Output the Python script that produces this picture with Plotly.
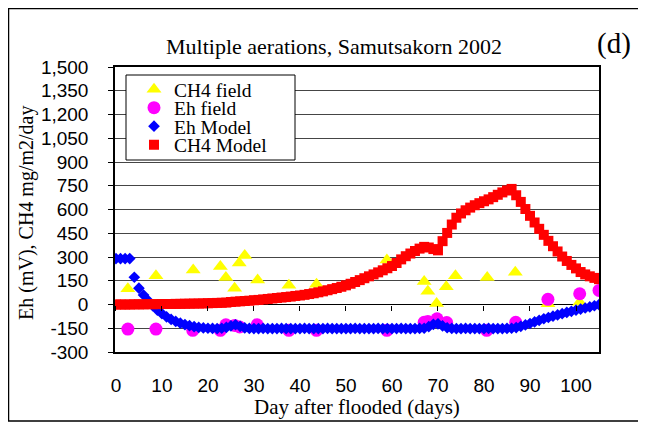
import plotly.graph_objects as go

# ---------------- data ----------------
days_model = list(range(0, 106))

eh_model = [290, 290, 290, 290, 172, 103, 60, 25, -8, -35,
            -58, -78, -94, -107, -118, -127, -134, -140, -145, -148,
            -150, -151, -152, -150, -145, -135, -128, -138, -148, -151,
            -152, -152, -151, -152, -152, -152, -151, -152, -152, -152,
            -152, -151, -152, -152, -152, -152, -151, -152, -152, -152,
            -152, -152, -151, -152, -152, -152, -152, -151, -152, -152,
            -152, -152, -151, -152, -152, -152, -151, -150, -140, -125,
            -122, -135, -147, -151, -152, -152, -151, -152, -152, -152,
            -152, -151, -152, -152, -152, -151, -150, -146, -138, -129,
            -120, -110, -100, -90, -82, -74, -66, -58, -50, -43,
            -36, -29, -22, -15, -8, -1]

ch4_model = [0, 0, 0, 0, 1, 1, 1, 2, 2, 2,
             3, 3, 3, 4, 4, 5, 5, 6, 6, 7,
             8, 9, 10, 11, 12, 16, 18, 20, 22, 24,
             27, 29, 32, 35, 38, 41, 44, 47, 50, 54,
             57, 61, 66, 71, 77, 83, 90, 97, 104, 112,
             121, 131, 142, 154, 166, 178, 190, 203, 216, 229,
             243, 262, 285, 305, 322, 338, 353, 364, 360, 350,
             342, 400, 452, 505, 548, 575, 595, 612, 627, 640,
             652, 664, 678, 693, 708, 720, 730, 690, 648, 603,
             560, 518, 478, 440, 402, 368, 335, 303, 275, 250,
             228, 205, 190, 178, 168, 160]

ch4_field_days = [2.6, 8.7, 16.8, 22.7, 23.9, 25.8, 26.8, 28.0, 30.8, 37.6,
                  43.6, 58.9, 67.0, 67.8, 69.7, 71.8, 73.8, 80.7, 86.8, 93.9, 100.8]
ch4_field = [100, 182, 218, 240, 170, 102, 262, 310, 154, 121,
             128, 281, 146, 83, 6, 112, 182, 170, 203, 5, 15]

eh_field_days = [2.6, 8.7, 16.7, 22.7, 23.9, 25.8, 26.9, 30.7, 37.6, 43.6,
                 58.9, 67.0, 67.8, 69.8, 71.9, 80.6, 86.9, 93.9, 100.8, 105.0]
eh_field = [-155, -155, -163, -163, -128, -132, -142, -128, -163, -163,
            -163, -112, -108, -90, -114, -163, -112, 33, 68, 89]

x_tick_vals = [0, 10, 20, 30, 40, 50, 60, 70, 80, 90, 100]
x_tick_labels = ["0", "10", "20", "30", "40", "50", "60", "70", "80", "90", "100"]
y_tick_vals = [-300, -150, 0, 150, 300, 450, 600, 750, 900, 1050, 1200, 1350, 1500]
y_tick_labels = ["-300", "-150", "0", "150", "300", "450", "600", "750", "900",
                 "1,050", "1,200", "1,350", "1,500"]

# ---------------- layout geometry ----------------
# the page body has an 8px margin, so the figure starts at screen (8, 8)
OFF = 8
W, H = 646 - OFF, 423 - OFF
L = 115 - OFF           # plot-area left edge at screen x=115
T = 67 - OFF            # plot-area top at screen y=67
R = W - (599 - OFF)     # plot-area right at screen x=599
B = H - (352 - OFF)     # plot-area bottom at screen y=352
PW, PH = W - L - R, H - T - B


def px_x(sx):
    return (sx - OFF - L) / PW


def px_y(sy):
    return (H - B - (sy - OFF)) / PH


SERIF = "Liberation Serif, Times New Roman, serif"
SANS = "Liberation Sans, Arial, sans-serif"

fig = go.Figure()

fig.add_trace(go.Scatter(x=ch4_field_days, y=ch4_field, mode="markers", name="CH4 field",
                         marker=dict(symbol="triangle-up", size=13, color="#FFFF00"),
                         legend="legend"))
fig.add_trace(go.Scatter(x=eh_field_days, y=eh_field, mode="markers", name="Eh field",
                         marker=dict(symbol="circle", size=13, color="#FF00FF"),
                         legend="legend2"))
fig.add_trace(go.Scatter(x=days_model, y=eh_model, mode="markers", name="Eh Model",
                         marker=dict(symbol="diamond", size=9, color="#0000FF"),
                         legend="legend3"))
fig.add_trace(go.Scatter(x=days_model, y=ch4_model, mode="markers", name="CH4 Model",
                         marker=dict(symbol="square", size=10, color="#FF0000"),
                         legend="legend4"))
# helper trace so the tick axis at y=0 is drawn
fig.add_trace(go.Scatter(x=[], y=[], xaxis="x2", yaxis="y", showlegend=False,
                         hoverinfo="skip"))

XR = [-0.2, 105.0]
YR = [-300, 1500]

row_y = [89.5, 108, 126.5, 145]
leg_common = dict(font=dict(family=SERIF, size=19.5, color="black"),
                  bgcolor="rgba(0,0,0,0)", borderwidth=0,
                  x=px_x(134), xanchor="left", yanchor="middle", itemwidth=30)

fig.update_layout(
    width=W, height=H,
    margin=dict(l=L, r=R, t=T, b=B, pad=0),
    paper_bgcolor="white", plot_bgcolor="white",
    showlegend=True,
    legend=dict(y=px_y(row_y[0]), **leg_common),
    legend2=dict(y=px_y(row_y[1]), **leg_common),
    legend3=dict(y=px_y(row_y[2]), **leg_common),
    legend4=dict(y=px_y(row_y[3]), **leg_common),
    xaxis=dict(range=XR, tickvals=x_tick_vals, ticktext=x_tick_labels,
               showgrid=False, zeroline=False, ticks="",
               showline=True, mirror=True, linecolor="black", linewidth=1.5,
               tickfont=dict(family=SANS, size=19, color="black"),
               ticklabelstandoff=15),
    xaxis2=dict(range=XR, overlaying="x", anchor="free", position=300 / 1800,
                side="bottom", tickvals=x_tick_vals, showticklabels=False,
                ticks="outside", ticklen=5, tickwidth=1, tickcolor="black",
                showgrid=False, zeroline=False, showline=False),
    yaxis=dict(range=YR, tickvals=y_tick_vals, ticktext=y_tick_labels,
               showgrid=True, gridcolor="#454545", gridwidth=1,
               zeroline=True, zerolinecolor="black", zerolinewidth=1.2,
               ticks="outside", ticklen=5, tickwidth=1, tickcolor="black",
               showline=True, mirror=True, linecolor="black", linewidth=1.5,
               tickfont=dict(family=SANS, size=19, color="black"),
               ticklabelstandoff=16),
    shapes=[
        dict(type="rect", xref="paper", yref="paper",
             x0=px_x(8.5), x1=px_x(700), y0=px_y(421), y1=px_y(8.5),
             line=dict(color="black", width=1.5), fillcolor="rgba(0,0,0,0)", layer="below"),
        dict(type="rect", xref="paper", yref="paper",
             x0=px_x(126), x1=px_x(295), y0=px_y(160), y1=px_y(75),
             line=dict(color="black", width=1), fillcolor="white", layer="above"),
    ],
    annotations=[
        dict(text="Multiple aerations, Samutsakorn 2002", xref="paper", yref="paper",
             x=px_x(334), y=px_y(46), xanchor="center", yanchor="middle",
             showarrow=False, font=dict(family=SERIF, size=22, color="black")),
        dict(text="(d)", xref="paper", yref="paper",
             x=px_x(614), y=px_y(44), xanchor="center", yanchor="middle",
             showarrow=False, font=dict(family=SERIF, size=29, color="black")),
        dict(text="Day after flooded (days)", xref="paper", yref="paper",
             x=px_x(357), y=px_y(407), xanchor="center", yanchor="middle",
             showarrow=False, font=dict(family=SERIF, size=21, color="black")),
        dict(text="Eh (mV), CH4 mg/m2/day", xref="paper", yref="paper",
             x=px_x(26), y=px_y(213), xanchor="center", yanchor="middle",
             textangle=-90, showarrow=False,
             font=dict(family=SERIF, size=20, color="black")),
    ],
)

fig.write_html("out.html")
